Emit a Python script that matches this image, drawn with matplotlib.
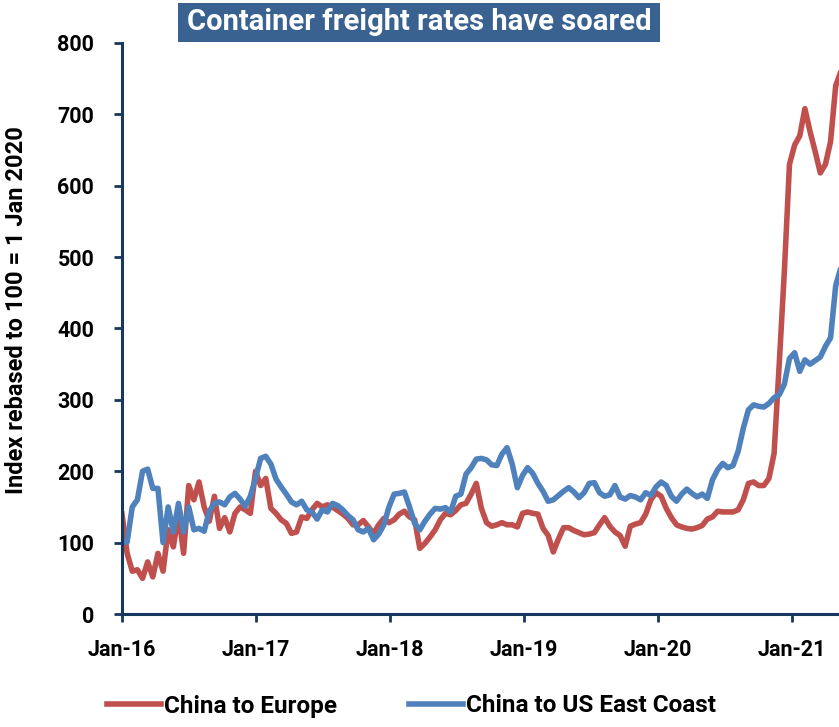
import matplotlib
matplotlib.use("Agg")
import matplotlib.pyplot as plt
import matplotlib.dates as mdates
import pandas as pd

plt.rcParams['font.family'] = ['Roboto', 'DejaVu Sans']
plt.rcParams['font.weight'] = 'bold'

# fortnightly index readings, rebased to 100 = 1 Jan 2020
dates = pd.date_range('2016-01-01', periods=141, freq='14D')

china_europe = [
    140, 85, 60, 62, 50, 73, 52, 85, 60, 118, 94, 140, 85, 180, 160, 185, 150, 130, 165, 120, 135, 115, 141, 150, 146, 141,
    200, 180, 190, 148, 141, 132, 127, 113, 115, 136, 134, 146, 155, 150, 153, 150, 145, 140, 134, 125, 125, 131, 122, 113, 125, 134,
    128, 132, 140, 144, 136, 132, 92, 99, 108, 118, 132, 141, 139, 145, 153, 155, 168, 183, 148, 128, 123, 125, 128, 125, 125, 122,
    141, 143, 141, 140, 120, 110, 87, 105, 121, 121, 117, 114, 111, 112, 114, 125, 135, 123, 115, 110, 95, 123, 126, 128, 140, 160,
    170, 165, 148, 135, 125, 122, 120, 119, 121, 124, 133, 136, 144, 143, 143, 143, 146, 160, 183, 185, 180, 180, 190, 225, 350, 480,
    630, 657, 670, 708, 676, 648, 618, 630, 662, 740, 760,
]

china_us_east = [
    100, 101, 150, 160, 200, 203, 176, 176, 100, 150, 115, 155, 115, 150, 118, 120, 116, 144, 155, 157, 153, 164, 169, 161, 151, 165,
    190, 218, 221, 210, 189, 178, 168, 157, 153, 158, 146, 143, 133, 146, 143, 155, 152, 146, 138, 132, 118, 115, 120, 104, 112, 125,
    150, 168, 169, 171, 150, 127, 118, 130, 140, 148, 147, 149, 143, 165, 168, 196, 205, 217, 218, 216, 209, 208, 224, 233, 210, 177,
    194, 205, 197, 183, 172, 158, 160, 166, 172, 177, 171, 163, 170, 183, 184, 170, 165, 167, 180, 164, 161, 166, 164, 160, 170, 166,
    178, 185, 180, 165, 158, 168, 175, 169, 164, 168, 162, 188, 202, 211, 205, 208, 228, 260, 286, 293, 291, 290, 295, 303, 307, 322,
    358, 366, 340, 356, 350, 355, 360, 375, 387, 460, 485,
]

navy = '#17375E'
red = '#C0504D'
blue = '#4F81BD'

fig = plt.figure(figsize=(8.39, 7.27), dpi=100)
ax = fig.add_axes([0.1454, 0.1554, 0.8546, 0.7855])

ax.plot(dates, china_europe, color=red, lw=4.0, label='China to Europe', solid_joinstyle='round')
ax.plot(dates, china_us_east, color=blue, lw=4.0, label='China to US East Coast', solid_joinstyle='round')

ax.set_ylim(0, 800)
ax.set_yticks(range(0, 801, 100))
ax.set_xlim(pd.Timestamp('2016-01-01'), pd.Timestamp('2021-05-09'))
ax.xaxis.set_major_locator(mdates.YearLocator(month=1, day=1))
ax.xaxis.set_major_formatter(mdates.DateFormatter('%b-%y'))

for side in ['top', 'right']:
    ax.spines[side].set_visible(False)
for side in ['left', 'bottom']:
    ax.spines[side].set_color(navy)
    ax.spines[side].set_linewidth(2.2)
ax.tick_params(axis='both', colors=navy, width=2, length=6, direction='out', labelcolor='black', labelsize=15.5)
ax.tick_params(axis='x', pad=12)
ax.tick_params(axis='y', pad=14)
for lbl in ax.get_xticklabels() + ax.get_yticklabels():
    lbl.set_fontweight('bold')

ax.set_ylabel('Index rebased to 100 = 1 Jan 2020', fontsize=17, fontweight='bold')
ax.yaxis.set_label_coords(-0.131, 0.532)

# title banner
fig.patches.append(plt.Rectangle((178 / 839, 1 - 42 / 727), 482 / 839, 39 / 727,
                                 transform=fig.transFigure, facecolor='#3A6291', edgecolor='none'))
fig.text(419 / 839, 1 - 22 / 727, 'Container freight rates have soared', ha='center', va='center',
         fontsize=21, fontweight='bold', color='white')

fig.legend(loc='center', bbox_to_anchor=(0.4905, 1 - 706 / 727), ncol=2, frameon=False,
           fontsize=17.5, handlelength=2.2, handletextpad=0.12, columnspacing=3.0)

fig.savefig('out.png', dpi=100)
